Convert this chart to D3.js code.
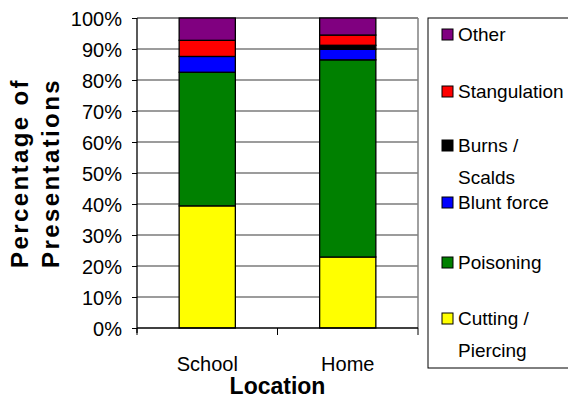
<!DOCTYPE html>
<html><head><meta charset="utf-8">
<script src="https://cdn.jsdelivr.net/npm/d3@7"></script>
<style>body{margin:0;background:#fff}svg{display:block}text{font-family:"Liberation Sans",Arial,sans-serif}</style>
</head><body><svg id="c" width="568" height="405"></svg>
<script>
const categories = ["School", "Home"];
const seriesNames = ["Cutting / Piercing", "Poisoning", "Blunt force", "Burns / Scalds", "Stangulation", "Other"];
const cuttingPiercing = [39.4, 22.9];
const poisoning = [43.1, 63.6];
const bluntForce = [5.1, 3.4];
const burnsScalds = [0, 1.3];
const strangulation = [5.2, 3.3];
const other = [7.2, 5.5];
const colors = ["#ffff00", "#008000", "#0000ff", "#000000", "#ff0000", "#800080"];
const yTicks = [0, 10, 20, 30, 40, 50, 60, 70, 80, 90, 100];

const seriesVals = [cuttingPiercing, poisoning, bluntForce, burnsScalds, strangulation, other];
const rows = categories.map((c, i) => {
  const r = {cat: c};
  seriesNames.forEach((s, j) => r[s] = seriesVals[j][i]);
  return r;
});
const stack = d3.stack().keys(seriesNames)(rows);

const svg = d3.select("#c");
const L = 137, R = 418, T = 18, B = 328;
const x = d3.scaleBand().domain(categories).range([L, R]).paddingInner(0.6).paddingOuter(0.3);
const xb = d3.scaleBand().domain(categories).range([L, R]);
const y = d3.scaleLinear().domain([0, 100]).range([B, T]);

// gridlines
svg.append("g").selectAll("line").data(yTicks.filter(t => t > 0)).join("line")
  .attr("x1", L).attr("x2", R).attr("y1", d => y(d)).attr("y2", d => y(d))
  .attr("stroke", "#3a3a3a").attr("stroke-width", 1.2);
// plot border top/right
svg.append("line").attr("x1", L).attr("x2", R).attr("y1", T).attr("y2", T).attr("stroke", "#808080").attr("stroke-width", 1.5);
svg.append("line").attr("x1", R).attr("x2", R).attr("y1", T).attr("y2", B).attr("stroke", "#808080").attr("stroke-width", 1.5);

// bars
svg.append("g").selectAll("g").data(stack).join("g")
  .attr("fill", (d, i) => colors[i])
  .selectAll("rect").data(d => d.filter(p => p[1] - p[0] > 0)).join("rect")
  .attr("x", d => x(d.data.cat)).attr("width", x.bandwidth())
  .attr("y", d => y(d[1])).attr("height", d => y(d[0]) - y(d[1]))
  .attr("stroke", "#000").attr("stroke-width", 1.3);

// y axis
const ya = svg.append("g").attr("transform", `translate(${L},0)`)
  .call(d3.axisLeft(y).tickValues(yTicks).tickFormat(d => d + "%").tickSize(5).tickPadding(10));
ya.select(".domain").attr("stroke", "#000").attr("stroke-width", 1.3).attr("d", `M0,${T}V${B + 5}`);
ya.selectAll(".tick line").attr("stroke", "#000");
ya.selectAll("text").attr("font-size", 20).attr("fill", "#000").attr("font-family", "Liberation Sans, Arial, sans-serif").attr("dy", "0.35em");

// x axis
const xa = svg.append("g").attr("transform", `translate(0,${B})`);
xa.append("line").attr("x1", L).attr("x2", R).attr("y1", 0).attr("y2", 0).attr("stroke", "#000").attr("stroke-width", 1.5);
xa.selectAll("line.tk").data(categories.map(c => xb(c)).concat([R])).join("line").attr("class", "tk")
  .attr("x1", d => d).attr("x2", d => d).attr("y1", 0).attr("y2", 7).attr("stroke", "#000");
xa.selectAll("text").data(categories).join("text")
  .attr("x", d => xb(d) + xb.bandwidth() / 2).attr("y", 43).attr("text-anchor", "middle")
  .attr("font-size", 20).text(d => d);

// axis titles
svg.append("text").attr("x", (L + R) / 2).attr("y", 394).attr("text-anchor", "middle")
  .attr("font-size", 23).attr("font-weight", "bold").text("Location");
const yt = svg.append("text").attr("transform", "translate(28,173) rotate(-90)").attr("text-anchor", "middle")
  .attr("font-size", 24).attr("font-weight", "bold").attr("letter-spacing", 2.4);
yt.append("tspan").attr("x", 0).attr("dy", 0).text("Percentage of");
yt.append("tspan").attr("x", 0).attr("dy", 31).text("Presentations");

// legend
const lg = svg.append("g");
lg.append("rect").attr("x", 428).attr("y", 18).attr("width", 145).attr("height", 350)
  .attr("fill", "#fff").attr("stroke", "#000").attr("stroke-width", 1);
const legendItems = [
  {name: "Other", lines: ["Other"], y: 35},
  {name: "Stangulation", lines: ["Stangulation"], y: 92},
  {name: "Burns / Scalds", lines: ["Burns /", "Scalds"], y: 146},
  {name: "Blunt force", lines: ["Blunt force"], y: 203},
  {name: "Poisoning", lines: ["Poisoning"], y: 263},
  {name: "Cutting / Piercing", lines: ["Cutting /", "Piercing"], y: 319}
];
const li = lg.selectAll("g.it").data(legendItems).join("g").attr("class", "it");
li.append("rect").attr("x", 442).attr("y", d => d.y - 6).attr("width", 11).attr("height", 11)
  .attr("fill", d => colors[seriesNames.indexOf(d.name)]).attr("stroke", "#000").attr("stroke-width", 1);
li.each(function(d) {
  const t = d3.select(this).append("text").attr("x", 458).attr("y", d.y + 6).attr("font-size", 19);
  d.lines.forEach((s, k) => t.append("tspan").attr("x", 458).attr("dy", k ? 32 : 0).text(s));
});
</script></body></html>
